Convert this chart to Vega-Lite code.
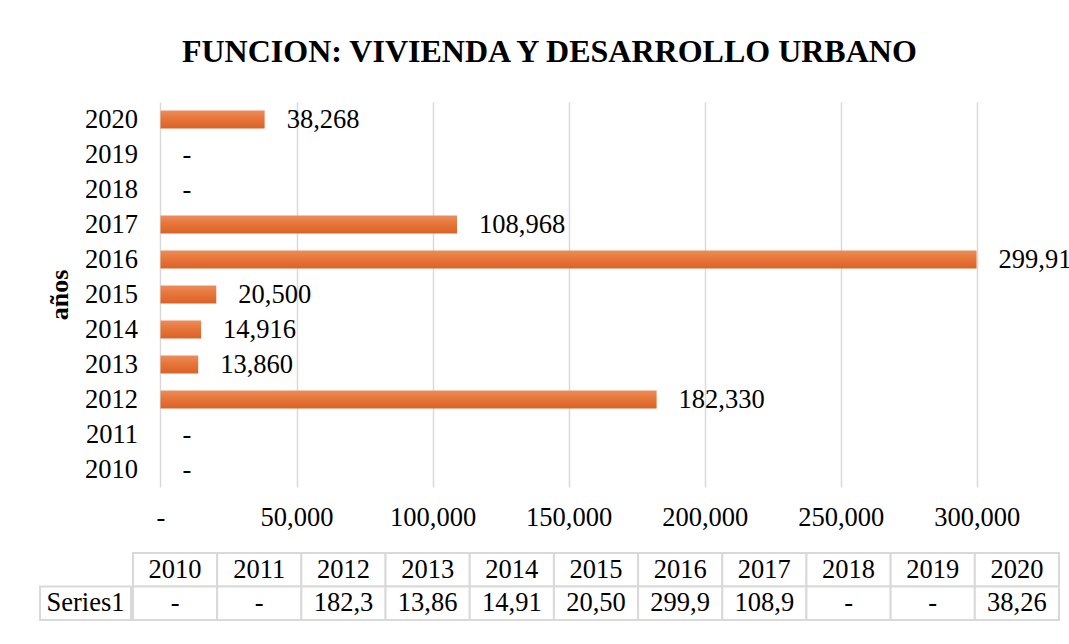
{
  "$schema": "https://vega.github.io/schema/vega-lite/v6.json",
  "padding": {"left": 39, "top": 36, "right": 0, "bottom": 0},
  "config": {"font": "Liberation Serif", "view": {"stroke": null}},
  "title": {"text": "FUNCION: VIVIENDA Y DESARROLLO URBANO", "fontSize": 32, "fontWeight": "bold", "color": "#000", "font": "Liberation Serif", "anchor": "middle", "offset": 33, "dx": -12},
  "datasets": {
    "d": [
      {"year": 2010, "value": 0},
      {"year": 2011, "value": 0},
      {"year": 2012, "value": 182330},
      {"year": 2013, "value": 13860},
      {"year": 2014, "value": 14916},
      {"year": 2015, "value": 20500},
      {"year": 2016, "value": 299911},
      {"year": 2017, "value": 108968},
      {"year": 2018, "value": 0},
      {"year": 2019, "value": 0},
      {"year": 2020, "value": 38268}
    ]
  },
  "spacing": 21,
  "vconcat": [
    {
      "width": 1017,
      "height": 385,
      "data": {"name": "d"},
      "encoding": {
        "y": {
          "field": "year", "type": "ordinal", "sort": "descending",
          "scale": {"paddingInner": 0.48, "paddingOuter": 0.24},
          "axis": {"title": "años", "titleFontSize": 26, "titleFontWeight": "bold", "titleColor": "#000", "titleFont": "Liberation Serif", "labelFontSize": 26.5, "labelColor": "#000", "labelFont": "Liberation Serif", "labelPadding": 23, "titlePadding": 12, "domain": false, "ticks": false, "grid": false, "offset": -120.5}
        }
      },
      "layer": [
        {
          "mark": {"type": "bar", "color": {"gradient": "linear", "x1": 0, "y1": 0, "x2": 0, "y2": 1, "stops": [{"offset": 0, "color": "#EB8D5E"}, {"offset": 0.45, "color": "#E77539"}, {"offset": 1, "color": "#DA6227"}]}},
          "encoding": {
            "x": {
              "field": "value", "type": "quantitative",
              "scale": {"domain": [-44285, 329474], "nice": false, "zero": false},
              "axis": {"title": null, "values": [0, 50000, 100000, 150000, 200000, 250000, 300000], "labelExpr": "datum.value === 0 ? '-' : format(datum.value, ',')", "grid": true, "gridColor": "#d9d9d9", "gridWidth": 1.5, "domain": false, "ticks": false, "labelFontSize": 26.5, "labelColor": "#000", "labelFont": "Liberation Serif", "labelPadding": 17, "labelFlush": false, "labelOverlap": false}
            },
            "x2": {"datum": 0}
          }
        },
        {
          "mark": {"type": "text", "align": "left", "baseline": "middle", "dx": 22, "fontSize": 26.5, "color": "#000"},
          "encoding": {
            "x": {"field": "value", "type": "quantitative"},
            "text": {"condition": {"test": "datum.value === 0", "value": "-"}, "field": "value", "type": "quantitative", "format": ","}
          }
        }
      ]
    },
    {
      "spacing": 0,
      "hconcat": [
        {
          "width": 91,
          "height": 67,
          "data": {"values": [{"series": "Series1"}]},
          "encoding": {
            "x": {"field": "series", "type": "nominal", "axis": null, "scale": {"paddingInner": 0, "paddingOuter": 0}},
            "y": {"datum": "val", "type": "nominal", "axis": null, "scale": {"domain": ["hdr", "val"], "paddingInner": 0, "paddingOuter": 0}}
          },
          "layer": [
            {"mark": {"type": "rect", "fill": "#fff", "stroke": "#d9d9d9", "strokeWidth": 2}},
            {"mark": {"type": "text", "fontSize": 26.5, "color": "#000"}, "encoding": {"text": {"field": "series", "type": "nominal"}}}
          ]
        },
        {
          "width": 926,
          "height": 67,
          "data": {"name": "d"},
          "encoding": {
            "x": {"field": "year", "type": "ordinal", "axis": null, "scale": {"paddingInner": 0, "paddingOuter": 0}}
          },
          "layer": [
            {"mark": {"type": "rect", "fill": "#fff", "stroke": "#d9d9d9", "strokeWidth": 2},
             "encoding": {"y": {"datum": "hdr", "type": "nominal", "axis": null, "scale": {"domain": ["hdr", "val"], "paddingInner": 0, "paddingOuter": 0}}}},
            {"mark": {"type": "rect", "fill": "#fff", "stroke": "#d9d9d9", "strokeWidth": 2},
             "encoding": {"y": {"datum": "val", "type": "nominal"}}},
            {"mark": {"type": "text", "fontSize": 26.5, "color": "#000"},
             "encoding": {"y": {"datum": "hdr", "type": "nominal"}, "text": {"field": "year", "type": "ordinal"}}},
            {"mark": {"type": "text", "fontSize": 26.5, "color": "#000", "limit": 66, "ellipsis": "\u200B"},
             "encoding": {"y": {"datum": "val", "type": "nominal"}, "text": {"condition": {"test": "datum.value === 0", "value": "-"}, "field": "value", "type": "quantitative", "format": ","}}}
          ]
        }
      ]
    }
  ]
}
